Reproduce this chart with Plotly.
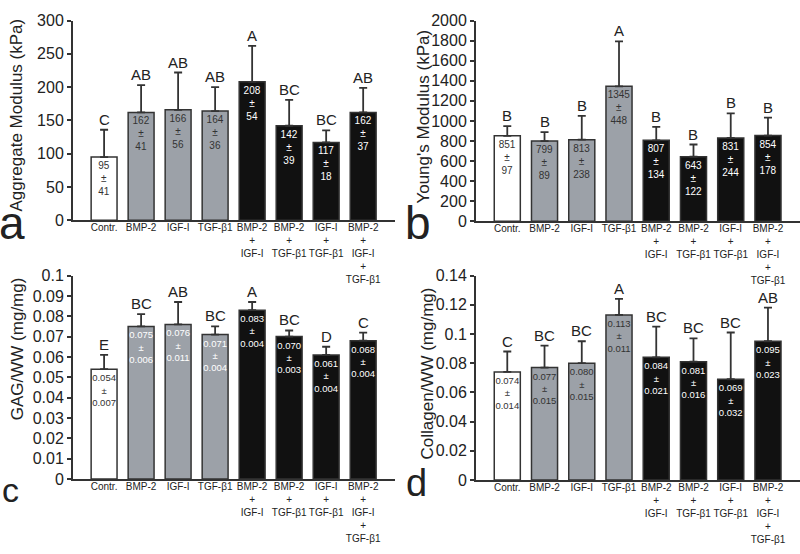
import plotly.graph_objects as go

categories = ["Contr.", "BMP-2", "IGF-I", "TGF-β1", "BMP-2<br>+<br>IGF-I",
              "BMP-2<br>+<br>TGF-β1", "IGF-I<br>+<br>TGF-β1",
              "BMP-2<br>+<br>IGF-I<br>+<br>TGF-β1"]

agg_mean = [95, 162, 166, 164, 208, 142, 117, 162]
agg_sd = [41, 41, 56, 36, 54, 39, 18, 37]
agg_letters = ["C", "AB", "AB", "AB", "A", "BC", "BC", "AB"]

ym_mean = [851, 799, 813, 1345, 807, 643, 831, 854]
ym_sd = [97, 89, 238, 448, 134, 122, 244, 178]
ym_letters = ["B", "B", "B", "A", "B", "B", "B", "B"]

gag_mean = [0.054, 0.075, 0.076, 0.071, 0.083, 0.070, 0.061, 0.068]
gag_sd = [0.007, 0.006, 0.011, 0.004, 0.004, 0.003, 0.004, 0.004]
gag_letters = ["E", "BC", "AB", "BC", "A", "BC", "D", "C"]

col_mean = [0.074, 0.077, 0.080, 0.113, 0.084, 0.081, 0.069, 0.095]
col_sd = [0.014, 0.015, 0.015, 0.011, 0.021, 0.016, 0.032, 0.023]
col_letters = ["C", "BC", "BC", "A", "BC", "BC", "BC", "AB"]

FONT = "Liberation Sans, Arial, sans-serif"
W, H = 800, 554
bar_colors = ["#ffffff", "#9ca1a8", "#9ca1a8", "#9ca1a8", "#111111", "#111111", "#111111", "#111111"]

panels = [
    dict(mean=agg_mean, sd=agg_sd, letters=agg_letters, fmt="{:d}", xa="x", ya="y",
         xdom=[73, 395], ydom=[219, 13], yrange=[0, 300], dtick=50, tickformat="d",
         title="Aggregate Modulus (kPa)", tx=17, ty=111, letter="a", lx=12, ly=222, lsize=46,
         tsize=10, tcol=["#333", "#333", "#333", "#333", "#fff", "#fff", "#fff", "#fff"]),
    dict(mean=ym_mean, sd=ym_sd, letters=ym_letters, fmt="{:d}", xa="x2", ya="y2",
         xdom=[476, 800], ydom=[220, 13], yrange=[0, 2000], dtick=200, tickformat="d",
         title="Young's Modulus (kPa)", tx=424, ty=112, letter="b", lx=418, ly=222, lsize=46,
         tsize=10, tcol=["#333", "#333", "#333", "#333", "#fff", "#fff", "#fff", "#fff"]),
    dict(mean=gag_mean, sd=gag_sd, letters=gag_letters, fmt="{:.3f}", xa="x3", ya="y3",
         xdom=[73, 395], ydom=[486, 276], yrange=[0, 0.1], dtick=0.01, tickformat="",
         title="GAG/WW (mg/mg)", tx=17, ty=352, letter="c", lx=10, ly=497, lsize=34,
         tsize=9.5, tcol=["#333", "#fff", "#fff", "#fff", "#fff", "#fff", "#fff", "#fff"]),
    dict(mean=col_mean, sd=col_sd, letters=col_letters, fmt="{:.3f}", xa="x4", ya="y4",
         xdom=[476, 800], ydom=[487, 276], yrange=[0, 0.14], dtick=0.02, tickformat="",
         title="Collagen/WW (mg/mg)", tx=427, ty=377, letter="d", lx=416, ly=490, lsize=38,
         tsize=9.5, tcol=["#333", "#333", "#333", "#333", "#fff", "#fff", "#fff", "#fff"]),
]

fig = go.Figure()
annotations = []
layout = {}
xs = list(range(len(categories)))

for i, p in enumerate(panels):
    texts = [p["fmt"].format(m) + "<br>±<br>" + p["fmt"].format(s) for m, s in zip(p["mean"], p["sd"])]
    fig.add_trace(go.Bar(
        x=xs, y=p["mean"], xaxis=p["xa"], yaxis=p["ya"],
        width=0.7,
        marker=dict(color=bar_colors, line=dict(color="#333333", width=1.5)),
        error_y=dict(type="data", symmetric=False, array=p["sd"], arrayminus=[0] * 8,
                     color="#333333", thickness=1.8, width=4),
        text=texts, textposition="inside", insidetextanchor="end", textangle=0,
        constraintext="none",
        textfont=dict(family=FONT, size=p["tsize"], color=p["tcol"]),
        showlegend=False, hoverinfo="skip",
    ))
    sfx = "" if i == 0 else str(i + 1)
    layout["xaxis" + sfx] = dict(
        domain=[p["xdom"][0] / W, p["xdom"][1] / W], anchor=p["ya"],
        range=[-0.84, 7.86], tickvals=xs, ticktext=categories, tickangle=0,
        ticklabelstandoff=-3,
        showline=True, linecolor="#333333", linewidth=2, ticks="",
        tickfont=dict(family=FONT, size=10, color="#222"), showgrid=False, zeroline=False,
        fixedrange=True,
    )
    layout["yaxis" + sfx] = dict(
        domain=[1 - p["ydom"][0] / H, 1 - p["ydom"][1] / H], anchor=p["xa"],
        range=p["yrange"], dtick=p["dtick"], tick0=0, tickformat=p["tickformat"],
        showline=True, linecolor="#333333", linewidth=2, ticks="outside", ticklen=4,
        tickcolor="#333333", tickwidth=1.5,
        tickfont=dict(family=FONT, size=16, color="#222"), showgrid=False, zeroline=False,
        fixedrange=True,
    )
    for x, m, s, lt in zip(xs, p["mean"], p["sd"], p["letters"]):
        annotations.append(dict(x=x, y=m + s, xref=p["xa"], yref=p["ya"], text=lt,
                                showarrow=False, yanchor="bottom", yshift=0,
                                font=dict(family=FONT, size=15, color="#222")))
    annotations.append(dict(x=p["tx"] / W, y=1 - p["ty"] / H, xref="paper", yref="paper",
                            text=p["title"], textangle=-90, showarrow=False,
                            xanchor="center", yanchor="middle",
                            font=dict(family=FONT, size=17, color="#222")))
    annotations.append(dict(x=p["lx"] / W, y=1 - p["ly"] / H, xref="paper", yref="paper",
                            text=p["letter"], showarrow=False,
                            xanchor="center", yanchor="middle",
                            font=dict(family=FONT, size=p["lsize"], color="#222")))

fig.update_layout(
    width=W, height=H, margin=dict(l=0, r=0, t=0, b=0),
    paper_bgcolor="white", plot_bgcolor="white",
    annotations=annotations, bargap=0.3, **layout,
)

fig.write_html("out.html", config={"displayModeBar": False},
               post_script="document.body.style.margin='0';document.body.style.overflow='hidden';")
